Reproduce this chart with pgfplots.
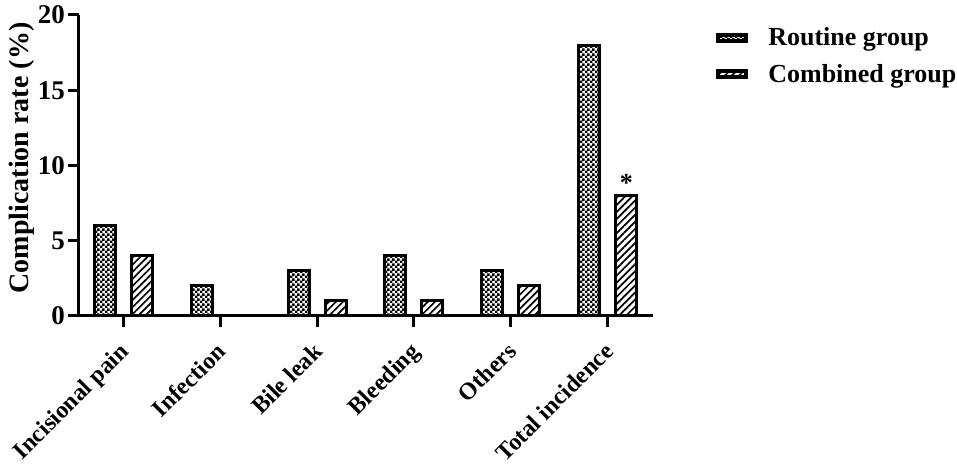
\documentclass[border=0pt]{standalone}
\usepackage{fontspec}
\setmainfont{Liberation Serif}
\usepackage{pgfplots}
\pgfplotsset{compat=1.18}
\usetikzlibrary{patterns,patterns.meta}
\pgfdeclarepattern{
  name=finechecker, type=uncolored,
  bottom left={\pgfpointorigin}, top right={\pgfpoint{5pt}{5pt}},
  tile size={\pgfpoint{5pt}{5pt}},
  code={\pgfpathrectangle{\pgfpointorigin}{\pgfpoint{2.9pt}{2.9pt}}
        \pgfpathrectangle{\pgfpoint{2.5pt}{2.5pt}}{\pgfpoint{2.9pt}{2.9pt}}
        \pgfusepath{fill}}}
\begin{document}
\begin{tikzpicture}
\useasboundingbox (0,0) rectangle (957pt,468pt);
\begin{axis}[
  at={(79pt,152pt)}, anchor=south west,
  width=574pt, height=301pt, scale only axis,
  xmin=-0.455, xmax=5.465, ymin=0, ymax=20,
  axis x line=bottom, axis y line=left,
  axis line style={-, line width=3pt},
  ytick={0,5,10,15,20},
  xtick={0,1,2,3,4,5},
  xticklabels={Incisional pain, Infection, Bile leak, Bleeding, Others, Total incidence},
  x tick label style={xshift=-5pt, rotate=45, anchor=north east, font=\fontsize{24}{26}\selectfont\bfseries, inner sep=10pt},
  y tick label style={font=\fontsize{27}{29}\selectfont\bfseries, inner sep=3pt},
  /pgf/number format/assume math mode=true,
  tick style={line width=3pt, black},
  tick align=outside, major tick length=11pt,
  ylabel={Complication rate (\%)},
  ylabel style={font=\fontsize{28}{30}\selectfont\bfseries, at={(axis description cs:-0.1,0.525)}, anchor=center},
  legend style={at={(axis description cs:1.11,0.965)}, anchor=north west, draw=none, fill=none,
    font=\fontsize{26}{28}\selectfont\bfseries, row sep=13pt, inner sep=0pt,
    /tikz/every odd column/.append style={column sep=18pt}},
  legend cell align=left,
  legend image code/.code={\draw[#1, line width=4pt] (2pt,-3pt) rectangle (30pt,3pt);},
]
\addplot[ybar, bar width=21pt, bar shift=-18.5pt, draw=black, line width=3pt, pattern=finechecker]
  coordinates {(0,6) (1,2) (2,3) (3,4) (4,3) (5,18)};
\addlegendentry{Routine group}
\addplot[ybar, bar width=21pt, bar shift=18.5pt, draw=black, line width=3pt, pattern={Lines[angle=45,distance=5pt,line width=1.7pt]}]
  coordinates {(0,4) (1,0) (2,1) (3,1) (4,2) (5,8)};
\addlegendentry{Combined group}
\addplot[ybar, bar width=21pt, bar shift=18.5pt, draw=none, fill=none, forget plot,
  nodes near coords={*}, every node near coord/.style={font=\fontsize{26}{28}\selectfont\bfseries, anchor=south, inner sep=1pt, xshift=18.5pt, yshift=3pt}]
  coordinates {(5,8)};
\end{axis}
\end{tikzpicture}
\end{document}
